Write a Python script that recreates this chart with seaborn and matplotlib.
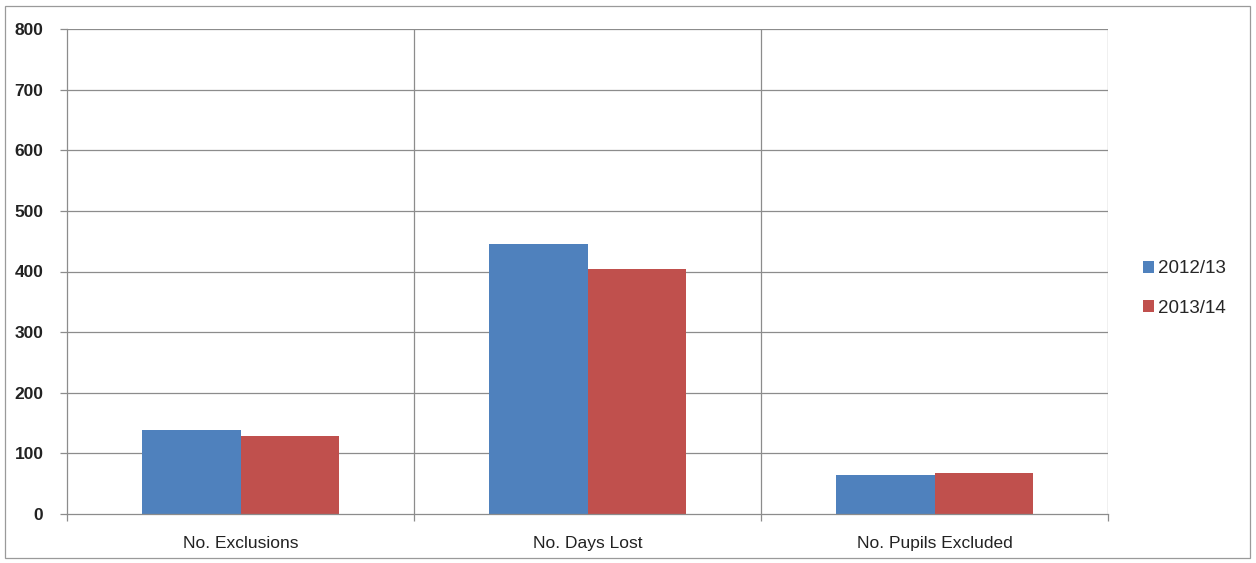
import matplotlib
matplotlib.use("Agg")
import matplotlib.pyplot as plt
import matplotlib.patches as mpatches
import seaborn as sns
import pandas as pd

categories = ["No. Exclusions", "No. Days Lost", "No. Pupils Excluded"]
years = ["2012/13", "2013/14"]
values_2012_13 = [138, 446, 64]
values_2013_14 = [128, 404, 67]
y_ticks = [0, 100, 200, 300, 400, 500, 600, 700, 800]

colors = ["#4F81BD", "#C0504D"]

df = pd.DataFrame({
    "category": categories * 2,
    "year": [years[0]] * 3 + [years[1]] * 3,
    "value": values_2012_13 + values_2013_14,
})

sns.set_theme(style="white")
plt.rcParams["font.family"] = ["Liberation Sans", "DejaVu Sans"]

fig = plt.figure(figsize=(12.56, 5.63), dpi=100)
ax = fig.add_axes([67 / 1256, 1 - 514 / 563, (1108 - 67) / 1256, (514 - 29) / 563])

sns.barplot(data=df, x="category", y="value", hue="year", palette=colors,
            width=0.565, saturation=1, ax=ax, edgecolor="none", linewidth=0,
            order=categories, hue_order=years)

ax.set_xlim(-0.5, 2.5)
ax.set_ylim(0, 800)
ax.set_yticks(y_ticks)
ax.set_yticklabels([str(t) for t in y_ticks], fontsize=12.5, fontweight="bold", color="#222222")
ax.set_xlabel("")
ax.set_ylabel("")

# horizontal grid and vertical category separators
ax.set_axisbelow(True)
for t in y_ticks[1:]:
    ax.axhline(t, color="#8c8c8c", linewidth=0.9, zorder=0)
for xb in [0.5, 1.5, 2.5]:
    ax.axvline(xb, color="#8c8c8c", linewidth=0.9, zorder=0)

for side in ["top", "right"]:
    ax.spines[side].set_visible(False)
for side in ["left", "bottom"]:
    ax.spines[side].set_color("#8c8c8c")
    ax.spines[side].set_linewidth(0.9)

ax.tick_params(axis="y", which="major", length=5, width=0.9, color="#8c8c8c",
               direction="out", left=True, pad=12)
ax.set_xticks([0, 1, 2])
ax.set_xticklabels(categories, fontsize=12.5, color="#222222")
ax.tick_params(axis="x", which="major", length=0, pad=16)
# minor ticks at category boundaries
ax.set_xticks([-0.5, 0.5, 1.5, 2.5], minor=True)
ax.tick_params(axis="x", which="minor", length=5, width=0.9, color="#8c8c8c",
               direction="out", bottom=True)

leg = ax.legend(loc="center left", bbox_to_anchor=(1.026, 0.465), frameon=False,
                fontsize=13.5, handlelength=0.6, handleheight=0.6, handletextpad=0.2,
                labelspacing=1.2, borderaxespad=0)

# outer chart border
fig.patches.append(mpatches.Rectangle((5 / 1256, 5 / 563), 1245 / 1256, 552 / 563,
                                      transform=fig.transFigure, fill=False,
                                      edgecolor="#9a9a9a", linewidth=0.9))

fig.savefig("out.png", dpi=100)
